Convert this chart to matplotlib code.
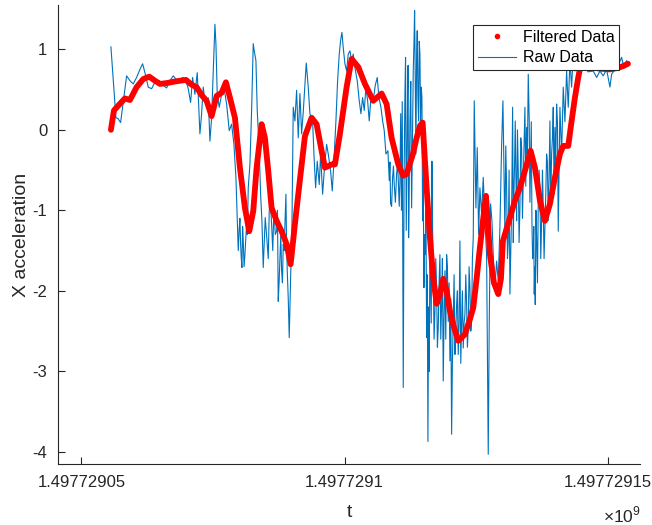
import numpy as np
import matplotlib
matplotlib.use("Agg")
import matplotlib.pyplot as plt
from matplotlib.lines import Line2D
from matplotlib.ticker import FuncFormatter

plt.rcParams['font.family'] = ['Liberation Sans', 'DejaVu Sans']
plt.rcParams['mathtext.fontset'] = 'custom'
plt.rcParams['mathtext.rm'] = 'Liberation Sans'

# time stamps are stored as seconds after T_BASE
T_BASE = 1497729000.0

RAW_T = [
    55.60, 56.55, 56.93, 57.44, 58.58, 59.21, 59.84, 60.48, 61.11, 61.62,
    62.06, 62.69, 63.33, 63.96, 64.78, 65.54, 66.18, 66.81, 67.44, 67.95,
    68.58, 69.22, 69.85, 70.29, 70.74, 71.12, 71.56, 72.00, 72.38, 72.51,
    72.83, 73.14, 73.46, 73.78, 74.09, 74.41, 74.73, 75.04, 75.36, 75.55,
    75.80, 76.18, 76.63, 77.07, 77.58, 78.08, 78.53, 78.97, 79.35, 79.60,
    79.98, 80.24, 80.49, 80.74, 81.06, 81.38, 81.69, 82.01, 82.33, 82.64,
    82.83, 83.15, 83.40, 83.78, 84.04, 84.29, 84.54, 84.92, 85.30, 85.68,
    86.13, 86.57, 87.08, 87.39, 87.71, 88.03, 88.34, 88.66, 88.85, 89.10,
    89.29, 89.48, 89.74, 89.99, 90.24, 90.56, 90.88, 91.19, 91.51, 91.83,
    92.14, 92.71, 93.09, 93.41, 93.92, 94.17, 94.49, 94.80, 95.18, 95.44,
    95.82, 96.13, 96.58, 96.89, 97.34, 97.65, 97.97, 98.35, 98.67, 98.98,
    99.24, 99.49, 99.74, 100.06, 100.38, 100.69, 101.01, 101.33, 101.64, 101.96,
    102.40, 102.78, 103.10, 103.42, 103.73, 104.05, 104.37, 104.68, 105.00, 105.44,
    105.82, 106.20, 106.52, 106.90, 107.22, 107.53, 107.85, 108.23, 108.48, 108.74,
    109.12, 109.43, 109.88, 110.26, 110.51, 110.80, 110.95, 111.14, 111.46, 111.71,
    111.97, 112.16, 112.41, 112.73, 113.04, 113.30, 113.55, 113.80, 114.06, 114.31,
    114.56, 114.82, 115.07, 115.32, 115.58, 115.83, 116.08, 116.34, 116.59, 116.84,
    117.16, 117.48, 117.79, 118.11, 118.43, 118.74, 119.06, 119.38, 119.69, 120.01,
    120.33, 120.64, 120.96, 121.28, 121.59, 121.91, 122.23, 122.54, 122.86, 123.18,
    123.49, 123.81, 124.13, 124.44, 124.63, 124.95, 125.20, 125.46, 125.71, 126.03,
    126.34, 126.66, 126.98, 127.29, 127.48, 127.74, 127.99, 128.24, 128.56, 128.88,
    129.19, 129.51, 129.83, 130.08, 130.46, 130.78, 131.09, 131.41, 131.73, 131.92,
    132.17, 132.42, 132.68, 132.99, 133.31, 133.63, 133.94, 134.26, 134.58, 134.89,
    135.08, 135.34, 135.59, 135.84, 136.03, 136.22, 136.48, 136.79, 137.11, 137.43,
    137.74, 138.06, 138.38, 138.69, 139.01, 139.33, 139.64, 139.96, 140.28, 140.59,
    140.91, 141.23, 141.54, 141.86, 142.18, 142.49, 142.81, 143.13, 143.44, 143.76,
    144.08, 144.71, 145.47, 146.23, 147.24, 147.88, 148.51, 149.14, 149.78, 150.41,
    150.73, 151.36, 151.99, 152.63, 153.07, 153.58, 153.89,
]

RAW_X = [
    1.03, 0.15, 0.14, 0.09, 0.67, 0.61, 0.57, 0.65, 0.75, 0.82,
    0.71, 0.53, 0.51, 0.59, 0.61, 0.55, 0.52, 0.61, 0.67, 0.63,
    0.60, 0.65, 0.61, 0.51, 0.34, 0.65, 0.44, 0.71, 0.15, -0.05,
    0.20, 0.53, 0.36, 0.28, 0.40, -0.14, 0.15, 0.73, 1.31, 1.07,
    0.44, 0.28, 0.44, 0.53, 0.32, -0.01, 0.07, -0.18, -0.59, -1.13,
    -1.22, -1.42, -1.71, -1.38, -1.55, -1.17, -0.72, -0.43, 0.24, 1.07,
    0.98, 0.86, 0.24, -0.26, -0.80, -1.13, -1.71, -1.09, -1.42, -1.01,
    -1.17, -0.97, -1.26, -2.13, -1.59, -1.75, -1.42, -1.17, -0.80, -1.75,
    -2.09, -2.58, -1.84, -1.22, 0.28, 0.11, 0.49, -0.10, 0.45, -0.05,
    0.22, 0.83, 0.53, 0.20, 0.11, -0.30, -0.72, -0.39, -0.68, -0.30,
    -0.80, -0.51, -0.18, -0.30, -0.51, -0.76, -0.39, 0.11, 0.61, 0.94,
    1.11, 1.21, 1.02, 0.82, 0.73, 0.94, 0.98, 0.86, 0.94, 0.77,
    0.61, 0.36, 0.20, 0.40, 0.24, 0.53, 0.36, 0.11, 0.40, 0.36,
    0.55, 0.65, 0.40, 0.28, 0.11, -0.01, -0.30, -0.26, -0.63, -0.92,
    -0.59, -0.68, -0.55, -0.72, -0.65, -1.00, 0.35, -3.20, 0.45, -1.25,
    0.45, -1.34, 0.11, -0.97, 0.73, 1.48, -0.30, 1.23, 0.11, 0.94,
    0.53, -1.13, -1.96, -1.55, -2.58, -3.87, -3.00, -1.96, -0.39, -1.75,
    -2.25, -1.96, -2.46, -1.55, -2.17, -3.12, -1.75, -1.55, -2.38, -2.87,
    -3.78, -2.38, -2.79, -2.17, -2.79, -1.38, -2.38, -2.71, -2.29, -2.17,
    -2.46, -1.96, -2.38, -1.34, 0.36, -0.97, -0.22, -1.30, -0.72, -1.05,
    -0.59, -1.13, -1.55, -4.03, -2.38, -0.92, -1.13, -1.55, -1.96, -1.63,
    -1.88, -1.20, -0.20, 0.36, -1.30, -0.70, -1.40, -2.04, -1.05, 0.28,
    -0.80, 0.11, -1.13, -0.51, -0.97, -0.22, -0.63, 0.28, 0.03, 0.69,
    0.11, -0.39, -1.13, -1.55, -2.04, -2.17, -1.34, -0.92, -0.72, -1.13,
    -0.97, -1.22, -0.30, -1.13, 0.11, -0.30, 0.28, 0.03, 0.32, -1.26,
    0.28, -0.30, 0.53, 0.10, 0.73, 0.28, 0.86, 0.53, 0.94, 0.73,
    0.86, 0.75, 0.82, 0.72, 0.73, 0.65, 0.73, 0.67, 0.75, 0.53,
    0.69, 0.75, 0.80, 0.90, 0.77, 0.86, 0.82,
]

# extra samples read from the densest, noisiest stretches
DENSE_T = [
    79.79, 80.11, 80.37, 80.62, 80.90, 81.22, 81.53,
    84.73, 85.11, 85.49, 85.91, 86.35, 86.83, 87.24, 87.55, 87.87, 88.19, 88.50, 88.97,
    108.61, 108.93, 109.28, 109.65, 110.07, 110.38,
    110.66, 111.30, 111.58, 111.84, 112.06, 112.28, 112.57, 112.88, 113.17, 113.42,
    113.67, 113.93, 114.18, 114.43, 114.69, 114.94, 115.19, 115.45, 115.70, 115.95,
    116.21, 116.46, 116.71, 117.00, 117.32, 117.63, 117.95, 118.27, 118.58, 118.90,
    119.22, 119.53, 119.85, 120.17, 120.48, 120.80, 121.12, 121.43, 121.75, 122.07,
    122.38, 122.70, 123.02, 123.33, 123.65, 123.97, 124.28,
    130.62, 130.94, 131.25, 131.57, 132.05, 132.30, 132.55, 132.84, 133.15, 133.47,
    133.79, 134.10, 134.42, 134.74, 135.21, 135.47, 135.72, 135.94, 136.13, 136.35,
    136.64, 136.95, 137.27, 137.59, 137.90, 138.22, 138.53, 138.85, 139.17, 139.49,
    139.80, 140.12, 140.44, 140.75,
]

DENSE_X = [
    -1.50, -1.10, -1.60, -1.20, -1.70, -1.35, -1.30,
    -1.40, -1.25, -1.60, -0.90, -1.50, -1.30, -1.00, -1.90, -1.30, -1.90, -1.50, -1.40,
    -0.40, -0.95, -0.45, -0.90, -0.40, -0.95,
    0.20, -0.60, 0.90, -0.40, 0.80, -0.70, 0.60, -0.20, 1.05, 0.60,
    0.85, 0.40, 1.10, 0.10, 0.40, -0.60, -1.30, -1.00, -1.80, -2.20,
    -1.40, -2.40, -1.20, -2.60, -1.60, -2.70, -1.90, -2.60, -1.60, -2.30,
    -2.60, -1.70, -1.90, -2.10, -2.90, -1.80, -2.50, -2.00, -2.40, -2.90,
    -2.00, -2.40, -1.80, -2.70, -1.70, -2.50, -1.60,
    -0.20, -1.60, -0.50, -1.50, -1.40, -0.40, -0.60, 0.00, -1.40, -0.10,
    -1.10, -0.20, -0.70, -0.30, -0.90, 0.10, -1.60, -1.20, -1.70, -1.00,
    -1.90, -0.50, -1.60, -0.50, -1.60, -0.80, -0.40, -0.60, -0.90, -0.10,
    -0.80, -0.40, 0.10, -0.50,
]

FILT_T = [
    55.60, 56.17, 56.99, 58.26, 59.21, 60.48, 61.74, 62.88, 63.96, 64.91,
    66.18, 67.76, 69.85, 70.93, 71.88, 72.83, 73.78, 74.73, 75.68, 76.63,
    77.45, 78.21, 79.16, 80.11, 81.06, 81.88, 82.64, 83.28, 84.23, 84.86,
    85.49, 86.13, 87.08, 88.03, 88.98, 89.74, 90.56, 91.51, 92.46, 93.73,
    94.68, 95.63, 96.26, 97.53, 98.16, 99.11, 100.38, 101.33, 102.59, 103.86,
    105.44, 107.03, 107.98, 108.93, 110.19, 111.14, 111.78, 112.98, 113.68, 114.31,
    114.82, 115.58, 116.21, 116.84, 117.48, 118.11, 118.74, 119.38, 120.01, 120.77,
    121.59, 122.86, 123.81, 124.44, 125.08, 125.71, 126.34, 126.85, 127.23, 127.61,
    128.37, 129.19, 129.70, 130.08, 131.41, 132.36, 133.31, 134.26, 135.34, 136.16,
    137.11, 138.06, 139.01, 139.96, 140.91, 141.54, 142.49, 143.13, 143.76, 144.39,
    145.03, 146.61, 148.51, 150.41, 151.93, 152.88, 153.83,
]

FILT_X = [
    0.00, 0.24, 0.30, 0.39, 0.37, 0.53, 0.63, 0.66, 0.61, 0.57,
    0.58, 0.60, 0.62, 0.56, 0.53, 0.43, 0.36, 0.17, 0.42, 0.46,
    0.59, 0.40, 0.15, -0.47, -0.97, -1.26, -1.01, -0.47, 0.07, -0.10,
    -0.51, -0.97, -1.13, -1.26, -1.42, -1.67, -1.17, -0.62, -0.08, 0.15,
    0.07, -0.26, -0.47, -0.43, -0.43, -0.05, 0.53, 0.88, 0.78, 0.57,
    0.36, 0.45, 0.32, -0.10, -0.43, -0.57, -0.55, -0.30, -0.10, 0.05,
    0.09, -0.72, -1.34, -1.84, -2.16, -2.05, -1.85, -2.00, -2.25, -2.45,
    -2.62, -2.54, -2.35, -2.21, -1.85, -1.46, -1.10, -0.82, -1.15, -1.55,
    -1.90, -2.04, -1.85, -1.38, -1.09, -0.88, -0.72, -0.51, -0.26, -0.47,
    -0.88, -1.13, -0.92, -0.59, -0.30, -0.20, -0.20, 0.11, 0.40, 0.65,
    0.86, 0.78, 0.76, 0.75, 0.77, 0.79, 0.82,
]

X_TICKS = [50, 100, 150]
Y_TICKS = [-4, -3, -2, -1, 0, 1]

# merge the regular and the extra raw samples in time order
all_t = np.array(RAW_T + DENSE_T)
all_x = np.array(RAW_X + DENSE_X)
order = np.argsort(all_t)
raw_t = T_BASE + all_t[order]
raw_x = all_x[order]
filt_t = T_BASE + np.array(FILT_T)

AX_COLOR = '#262626'
BLUE = '#0072BD'

fig = plt.figure(figsize=(6.52, 5.25), dpi=100)
ax = fig.add_axes([0.0894, 0.1162, 0.8916, 0.8743])

ax.plot(raw_t, raw_x, color=BLUE, lw=0.8, zorder=2)
ax.plot(filt_t, FILT_X, color='red', lw=4.2, solid_capstyle='round',
        solid_joinstyle='round', zorder=3)

ax.set_xlim(T_BASE + 45.6, T_BASE + 156.05)
ax.set_ylim(-4.15, 1.55)
ax.set_xticks([T_BASE + v for v in X_TICKS])
ax.set_yticks(Y_TICKS)
ax.xaxis.set_major_formatter(FuncFormatter(lambda v, p: f"{v / 1e9:.8f}".rstrip('0')))
ax.yaxis.set_major_formatter(FuncFormatter(lambda v, p: f"{v:g}"))

for s in ['top', 'right']:
    ax.spines[s].set_visible(False)
for s in ['left', 'bottom']:
    ax.spines[s].set_color(AX_COLOR)
    ax.spines[s].set_linewidth(0.8)
ax.tick_params(direction='in', length=5, width=0.8, colors=AX_COLOR,
               labelsize=12, pad=8)

ax.set_xlabel('t', fontsize=14, color=AX_COLOR, labelpad=10)
ax.set_ylabel('X acceleration', fontsize=14, color=AX_COLOR, labelpad=2)
fig.text(0.983, 0.0, r'$\times10^{9}$', ha='right', va='bottom',
         fontsize=12.5, color=AX_COLOR)

handles = [Line2D([], [], color='red', marker='.', ls='none', markersize=6),
           Line2D([], [], color=BLUE, lw=0.8)]
leg = ax.legend(handles, ['Filtered Data', 'Raw Data'], loc='upper right',
                bbox_to_anchor=(0.965, 0.957), fontsize=11.5, fancybox=False,
                framealpha=1, edgecolor=AX_COLOR, borderpad=0.3,
                labelspacing=0.35, handlelength=2.4, handletextpad=0.4,
                borderaxespad=0)
leg.get_frame().set_linewidth(0.8)

fig.savefig('out.png', dpi=100)
